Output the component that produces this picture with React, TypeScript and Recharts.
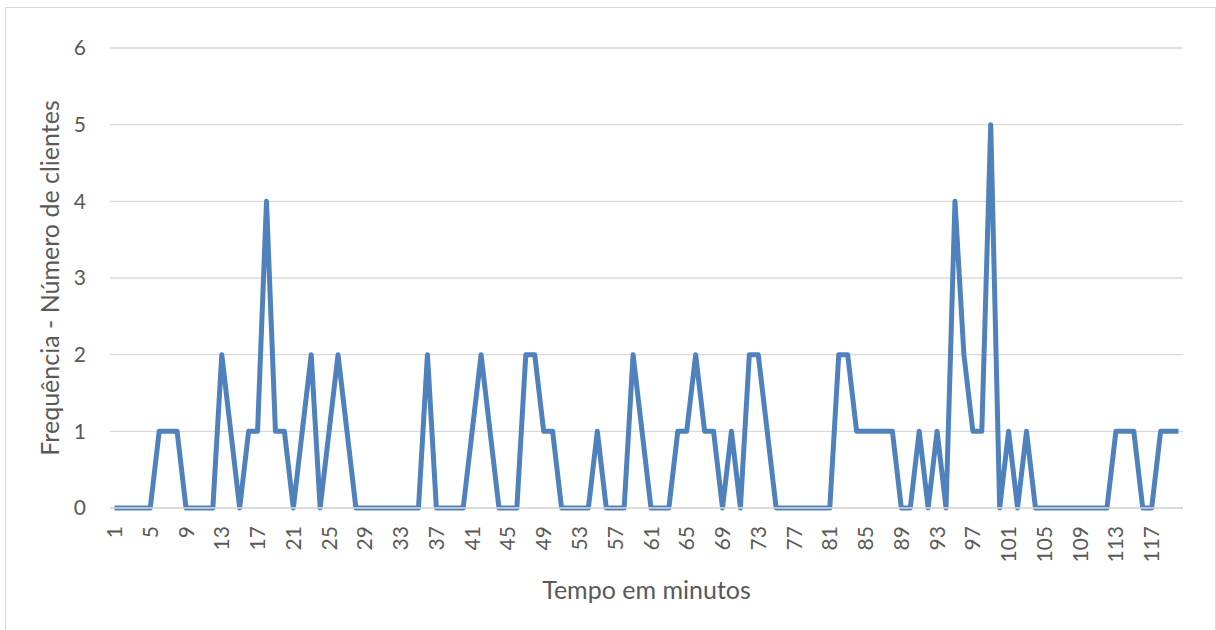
import { CartesianGrid, Line, LineChart, XAxis, YAxis } from "recharts";

// minutes 1..120 on the category axis
const minutes = Array.from({ length: 120 }, (_, i) => String(i + 1));

// clients arriving per minute
const clientes = [
  0, 0, 0, 0, 0, 1, 1, 1, 0, 0,
  0, 0, 2, 1, 0, 1, 1, 4, 1, 1,
  0, 1, 2, 0, 1, 2, 1, 0, 0, 0,
  0, 0, 0, 0, 0, 2, 0, 0, 0, 0,
  1, 2, 1, 0, 0, 0, 2, 2, 1, 1,
  0, 0, 0, 0, 1, 0, 0, 0, 2, 1,
  0, 0, 0, 1, 1, 2, 1, 1, 0, 1,
  0, 2, 2, 1, 0, 0, 0, 0, 0, 0,
  0, 2, 2, 1, 1, 1, 1, 1, 0, 0,
  1, 0, 1, 0, 4, 2, 1, 1, 5, 0,
  1, 0, 1, 0, 0, 0, 0, 0, 0, 0,
  0, 0, 1, 1, 1, 0, 0, 1, 1, 1,
];

const yTicks = [0, 1, 2, 3, 4, 5, 6];

const data = minutes.map((m, i) => ({ minuto: m, clientes: clientes[i] }));

const FONT = "Lato, 'Open Sans', sans-serif";
const TEXT = "#595959";
const GRID = "#d9d9d9";

function MinuteTick({ x, y, payload }: any) {
  return (
    <g transform={`translate(${x},${y})`}>
      <text
        transform="rotate(-90)"
        textAnchor="end"
        dy="0.36em"
        fill={TEXT}
        fontSize={21}
        fontFamily={FONT}
      >
        {payload.value}
      </text>
    </g>
  );
}

export default function App() {
  return (
    <div
      style={{
        position: "absolute",
        left: 0,
        top: 0,
        width: 1216,
        height: 630,
        overflow: "hidden",
        background: "#fff",
      }}
    >
      <div
        style={{
          position: "absolute",
          left: 5,
          top: 7,
          width: 1209,
          height: 640,
          border: `1px solid ${GRID}`,
        }}
      />
      <div style={{ position: "absolute", left: 0, top: 0 }}>
        <LineChart
          width={1216}
          height={630}
          data={data}
          margin={{ top: 48, right: 33, bottom: 0, left: 0 }}
        >
          <CartesianGrid vertical={false} stroke={GRID} strokeWidth={1.3} />
          <XAxis
            dataKey="minuto"
            height={122}
            interval={3}
            padding={{ left: 4.5, right: 4.5 }}
            axisLine={{ stroke: GRID, strokeWidth: 1.3 }}
            tickLine={false}
            tickSize={0}
            tickMargin={18}
            tick={<MinuteTick />}
            label={{
              value: "Tempo em minutos",
              position: "insideBottom",
              offset: 31,
              fill: TEXT,
              fontSize: 25,
              fontFamily: FONT,
            }}
          />
          <YAxis
            width={110}
            domain={[0, 6]}
            ticks={yTicks}
            axisLine={false}
            tickLine={false}
            tickSize={0}
            tickMargin={24}
            tick={{ fill: TEXT, fontSize: 21, fontFamily: FONT }}
            label={{
              value: "Frequência - Número de clientes",
              angle: -90,
              position: "center",
              dx: -5,
              fill: TEXT,
              fontSize: 25,
              fontFamily: FONT,
            }}
          />
          <Line
            type="linear"
            dataKey="clientes"
            stroke="#4f81bd"
            strokeWidth={5}
            strokeLinejoin="round"
            dot={false}
            activeDot={false}
            isAnimationActive={false}
          />
        </LineChart>
      </div>
    </div>
  );
}
